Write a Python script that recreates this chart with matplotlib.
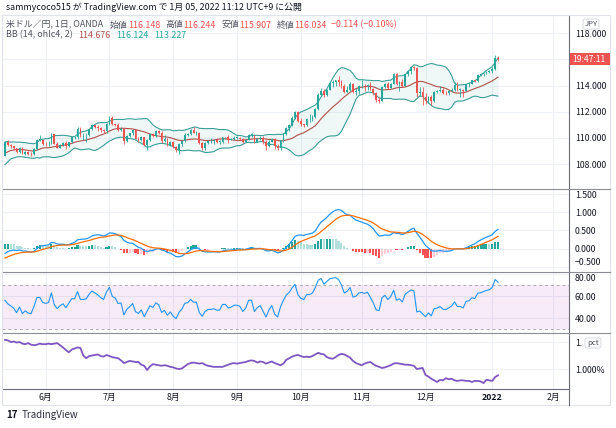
import numpy as np
import pandas as pd
import matplotlib
matplotlib.use('Agg')
import matplotlib.pyplot as plt
from matplotlib.patches import Rectangle, FancyBboxPatch
from matplotlib.lines import Line2D

plt.rcParams['font.family'] = ['Noto Sans CJK JP', 'DejaVu Sans']

# USD/JPY daily bars, 2021-05-12 .. 2022-01-05 (OANDA)
opens = [108.60, 109.70, 109.48, 109.35, 109.20, 108.90, 109.25, 108.78, 108.95, 108.78,
         108.75, 109.18, 109.85, 109.85, 109.55, 109.50, 109.55, 110.30, 109.55, 109.25,
         109.48, 109.62, 109.35, 109.68, 110.05, 110.05, 110.70, 110.20, 110.20, 110.25,
         110.65, 110.95, 110.85, 110.75, 110.60, 110.50, 111.10, 111.55, 111.05, 110.95,
         110.60, 110.65, 109.75, 110.15, 110.35, 110.60, 109.95, 109.80, 110.05, 109.45,
         109.85, 110.30, 110.15, 110.55, 110.40, 109.75, 109.90, 109.45, 109.70, 109.30,
         109.05, 109.50, 109.75, 110.25, 110.30, 110.60, 110.40, 110.40, 109.60, 109.25,
         109.60, 109.75, 109.75, 109.80, 109.70, 109.70, 110.05, 110.05, 109.85, 109.90,
         110.00, 110.00, 109.95, 109.70, 109.85, 110.25, 110.25, 109.70, 109.90, 110.00,
         109.70, 109.35, 109.70, 109.95, 109.40, 109.20, 109.80, 110.30, 110.75, 111.00,
         111.50, 111.95, 111.30, 111.05, 110.95, 111.45, 111.45, 111.60, 112.20, 113.30,
         113.60, 113.25, 113.70, 114.20, 114.30, 114.40, 114.30, 114.00, 113.50, 113.70,
         114.15, 113.50, 113.60, 113.95, 114.00, 113.95, 114.05, 113.75, 113.40, 112.90,
         112.85, 113.90, 114.15, 113.85, 114.15, 114.85, 114.10, 114.25, 114.00, 114.85,
         115.15, 115.40, 115.35, 113.40, 113.50, 113.15, 112.80, 113.15, 112.80, 113.50,
         113.55, 113.70, 113.45, 113.40, 113.55, 113.70, 114.05, 113.70, 113.70, 113.60,
         114.10, 114.15, 114.40, 114.35, 114.80, 114.85, 114.95, 115.05, 115.10, 115.30,
         116.148]
highs = [109.78, 109.80, 109.55, 109.38, 109.25, 109.32, 109.30, 108.98, 108.98, 108.90,
         109.20, 109.95, 110.20, 109.88, 109.70, 109.75, 110.35, 110.33, 109.65, 109.55,
         109.65, 109.75, 109.72, 110.10, 110.15, 110.80, 110.80, 110.40, 110.40, 110.70,
         111.10, 111.00, 110.95, 110.85, 110.65, 111.15, 111.65, 111.65, 111.10, 111.15,
         110.80, 110.70, 110.20, 110.40, 110.70, 110.65, 110.10, 110.15, 110.10, 109.90,
         110.40, 110.40, 110.60, 110.60, 110.55, 110.25, 110.00, 109.75, 109.75, 109.35,
         109.60, 109.80, 110.35, 110.40, 110.65, 110.80, 110.50, 110.45, 109.65, 109.65,
         109.85, 110.00, 109.95, 110.00, 109.80, 110.10, 110.10, 110.20, 110.00, 110.15,
         110.15, 110.05, 110.00, 109.90, 110.30, 110.40, 110.25, 110.00, 110.15, 110.15,
         109.80, 109.85, 110.00, 110.00, 109.55, 109.85, 110.35, 110.80, 111.05, 111.70,
         112.05, 112.05, 111.50, 111.10, 111.55, 111.80, 111.75, 112.25, 113.45, 113.80,
         113.75, 113.75, 114.30, 114.45, 114.45, 114.70, 114.40, 114.10, 113.95, 114.30,
         114.20, 113.85, 114.05, 114.45, 114.10, 114.15, 114.30, 113.85, 113.50, 113.10,
         114.00, 114.20, 114.30, 114.20, 114.95, 114.95, 114.35, 114.50, 114.90, 115.20,
         115.50, 115.50, 115.40, 113.90, 113.90, 113.45, 113.20, 113.25, 113.55, 113.70,
         113.95, 113.80, 113.60, 113.65, 113.80, 114.25, 114.25, 113.80, 113.75, 114.15,
         114.30, 114.45, 114.45, 114.85, 114.95, 115.00, 115.15, 115.20, 115.40, 116.35,
         116.244]
lows = [108.58, 109.35, 109.25, 109.10, 108.85, 108.85, 108.75, 108.70, 108.70, 108.60,
        108.70, 109.10, 109.75, 109.45, 109.40, 109.40, 109.50, 109.50, 109.20, 109.20,
        109.40, 109.15, 109.30, 109.60, 109.95, 109.90, 110.10, 109.80, 109.70, 110.15,
        110.60, 110.75, 110.55, 110.45, 110.35, 110.40, 111.00, 110.95, 110.90, 110.55,
        110.50, 109.55, 109.70, 110.05, 110.25, 109.90, 109.65, 109.75, 109.35, 109.05,
        109.75, 110.05, 110.10, 110.30, 109.60, 109.70, 109.40, 109.35, 109.20, 108.90,
        108.75, 109.40, 109.65, 110.15, 110.25, 110.35, 110.25, 109.55, 109.10, 109.10,
        109.50, 109.60, 109.55, 109.60, 109.55, 109.60, 109.90, 109.60, 109.80, 109.85,
        109.90, 109.85, 109.60, 109.70, 109.80, 110.10, 109.60, 109.65, 109.85, 109.55,
        109.10, 109.30, 109.65, 109.15, 109.10, 109.10, 109.70, 110.20, 110.55, 110.90,
        111.45, 111.25, 110.90, 110.80, 110.90, 111.25, 111.30, 111.55, 112.15, 113.20,
        113.15, 113.20, 113.65, 113.90, 113.95, 114.00, 113.80, 113.40, 113.45, 113.60,
        113.45, 113.25, 113.35, 113.80, 113.60, 113.65, 113.70, 113.30, 112.75, 112.70,
        112.80, 113.80, 113.75, 113.80, 114.10, 114.05, 113.60, 113.90, 113.95, 114.70,
        114.90, 115.20, 113.10, 113.20, 112.55, 112.60, 112.70, 112.55, 112.75, 113.40,
        113.50, 113.35, 113.30, 113.30, 113.50, 113.55, 113.60, 113.15, 113.15, 113.55,
        113.90, 114.10, 114.30, 114.30, 114.70, 114.70, 114.90, 114.95, 115.00, 115.20,
        115.907]
closes = [109.70, 109.48, 109.35, 109.20, 108.90, 109.25, 108.78, 108.95, 108.78, 108.75,
          109.18, 109.85, 109.85, 109.55, 109.50, 109.55, 110.30, 109.55, 109.25, 109.48,
          109.62, 109.35, 109.68, 110.05, 110.05, 110.70, 110.20, 110.20, 110.25, 110.65,
          110.95, 110.85, 110.75, 110.60, 110.50, 111.10, 111.55, 111.05, 110.95, 110.60,
          110.65, 109.75, 110.15, 110.35, 110.60, 109.95, 109.80, 110.05, 109.45, 109.85,
          110.30, 110.15, 110.55, 110.40, 109.75, 109.90, 109.45, 109.70, 109.30, 109.05,
          109.50, 109.75, 110.25, 110.30, 110.60, 110.40, 110.40, 109.60, 109.25, 109.60,
          109.75, 109.75, 109.80, 109.70, 109.70, 110.05, 110.05, 109.85, 109.90, 110.00,
          110.00, 109.95, 109.70, 109.85, 110.25, 110.25, 109.70, 109.90, 110.00, 109.70,
          109.35, 109.70, 109.95, 109.40, 109.20, 109.80, 110.30, 110.75, 111.00, 111.50,
          111.95, 111.30, 111.05, 110.95, 111.45, 111.45, 111.60, 112.20, 113.30, 113.60,
          113.25, 113.70, 114.20, 114.30, 114.40, 114.30, 114.00, 113.50, 113.70, 114.15,
          113.50, 113.60, 113.95, 114.00, 113.95, 114.05, 113.75, 113.40, 112.90, 112.85,
          113.90, 114.15, 113.85, 114.15, 114.85, 114.10, 114.25, 114.00, 114.85, 115.15,
          115.40, 115.35, 113.40, 113.50, 113.15, 112.80, 113.15, 112.80, 113.50, 113.55,
          113.70, 113.45, 113.40, 113.55, 113.70, 114.05, 113.70, 113.70, 113.60, 114.10,
          114.15, 114.40, 114.35, 114.80, 114.85, 114.95, 115.05, 115.10, 115.30, 116.148,
          116.034]

# closes before the visible range, only used to warm up the indicators
warmup_close = [110.72, 110.62, 110.28, 110.18, 109.75, 109.85, 109.27, 109.67, 109.40, 109.07,
                108.92, 108.77, 108.79, 108.15, 108.10, 108.10, 107.94, 107.88, 108.07, 108.69,
                108.64, 108.92, 109.31, 109.14, 109.35, 109.23, 109.10, 108.59, 108.79, 108.60]

# US10Y-US02Y spread (%), one value per bar
spread = [1.54, 1.53, 1.50, 1.51, 1.49, 1.50, 1.47, 1.46, 1.48, 1.45,
          1.44, 1.45, 1.47, 1.46, 1.46, 1.47, 1.46, 1.47, 1.48, 1.44,
          1.40, 1.35, 1.31, 1.36, 1.38, 1.40, 1.39, 1.25, 1.20, 1.24,
          1.25, 1.26, 1.27, 1.24, 1.23, 1.26, 1.24, 1.22, 1.21, 1.20,
          1.16, 1.11, 1.13, 1.15, 1.14, 1.13, 1.13, 1.08, 1.06, 0.98,
          1.05, 1.09, 1.08, 1.07, 1.06, 1.07, 1.06, 1.04, 1.03, 1.01,
          1.00, 1.01, 1.05, 1.09, 1.11, 1.12, 1.11, 1.10, 1.11, 1.08,
          1.06, 1.05, 1.04, 1.04, 1.04, 1.04, 1.06, 1.08, 1.10, 1.11,
          1.10, 1.11, 1.12, 1.13, 1.15, 1.16, 1.15, 1.12, 1.14, 1.13,
          1.10, 1.12, 1.14, 1.11, 1.09, 1.07, 1.10, 1.17, 1.20, 1.23,
          1.25, 1.26, 1.24, 1.22, 1.23, 1.22, 1.24, 1.27, 1.30, 1.28,
          1.27, 1.22, 1.20, 1.19, 1.22, 1.26, 1.28, 1.27, 1.24, 1.21,
          1.15, 1.11, 1.09, 1.07, 1.10, 1.12, 1.13, 1.09, 1.06, 1.04,
          1.02, 1.03, 1.05, 1.07, 1.10, 1.11, 1.10, 1.09, 1.08, 1.08,
          1.07, 1.06, 1.00, 1.01, 1.02, 0.89, 0.86, 0.82, 0.79, 0.76,
          0.80, 0.79, 0.83, 0.81, 0.82, 0.79, 0.78, 0.79, 0.79, 0.78,
          0.78, 0.76, 0.78, 0.78, 0.77, 0.74, 0.80, 0.79, 0.78, 0.85,
          0.883]

month_starts = ['2021-06-01', '2021-07-01', '2021-08-01', '2021-09-01', '2021-10-01',
                '2021-11-01', '2021-12-01', '2022-01-01', '2022-02-01']
month_labels = ['6月', '7月', '8月', '9月', '10月', '11月', '12月', '2022', '2月']

# ---- indicators ----
o = np.array(opens); h = np.array(highs); l = np.array(lows); c = np.array(closes)
nw = len(warmup_close)
full_close = pd.Series(warmup_close + closes)
src = pd.Series(warmup_close + list((o + h + l + c) / 4))

basis = src.rolling(14).mean()
dev = src.rolling(14).std(ddof=0) * 2
bb_mid = basis.values[nw:]
bb_up = (basis + dev).values[nw:]
bb_lo = (basis - dev).values[nw:]

ema12 = full_close.ewm(span=12, adjust=False).mean()
ema26 = full_close.ewm(span=26, adjust=False).mean()
macd = ema12 - ema26
signal = macd.ewm(span=9, adjust=False).mean()
hist = macd - signal
hist_prev = hist.shift(1)
macd_v = macd.values[nw:]
sig_v = signal.values[nw:]
hist_v = hist.values[nw:]
hist_p = hist_prev.values[nw:]

delta = full_close.diff()
up = delta.clip(lower=0).ewm(alpha=1/14, adjust=False).mean()
down = (-delta.clip(upper=0)).ewm(alpha=1/14, adjust=False).mean()
rsi = (100 - 100 / (1 + up / down)).values[nw:]

# ---- time axis (bar index) ----
days = pd.bdate_range('2021-05-12', '2022-02-28')
month_pos = [int(days.searchsorted(pd.Timestamp(m))) for m in month_starts]
x = np.arange(len(closes))

W, H = 616, 428
fig = plt.figure(figsize=(W / 100, H / 100), dpi=100)
fig.patch.set_facecolor('white')

def px_axes(x0, y0, x1, y1):
    return fig.add_axes([x0 / W, 1 - y1 / H, (x1 - x0) / W, (y1 - y0) / H])

ax1 = px_axes(2, 15, 569, 189)
ax2 = px_axes(2, 189, 569, 272)
ax3 = px_axes(2, 272, 569, 333)
ax4 = px_axes(2, 333, 569, 389)

GREEN = '#26a69a'
RED = '#ef5350'
GRID = '#eef1f6'
TXT = '#131722'
GRAY = '#50535e'
SEP = '#8a8d96'

x_left = (2 - 5) / 2.9
x_right = (569 - 5) / 2.9

for ax in (ax1, ax2, ax3, ax4):
    ax.set_facecolor('white')
    ax.set_xlim(x_left, x_right)
    ax.set_xticks(month_pos)
    ax.grid(True, color=GRID, lw=0.8, zorder=0)
    ax.set_axisbelow(True)
    ax.spines['left'].set_visible(False)
    ax.spines['bottom'].set_visible(False)
    ax.spines['right'].set_color('#6a6d78')
    ax.spines['top'].set_color(SEP)
    ax.spines['top'].set_linewidth(0.8)
    ax.yaxis.tick_right()
    ax.tick_params(axis='y', length=0, pad=4.3, labelsize=6.3, labelcolor=TXT)
    ax.tick_params(axis='x', length=0, labelbottom=False)
ax1.spines['top'].set_color('#e0e3eb')

# ---- main: candles + BB ----
ax1.set_ylim(106.09, 119.40)
pt = [108, 110, 112, 114, 116, 118]
ax1.set_yticks(pt)
# the 116 label sits under the live price tag
ax1.set_yticklabels(['' if v == 116 else '{:.3f}'.format(v) for v in pt])
ax1.fill_between(x, bb_lo, bb_up, color=GREEN, alpha=0.07, lw=0, zorder=1)
ax1.plot(x, bb_up, color='#3a9e98', lw=0.8, zorder=2)
ax1.plot(x, bb_lo, color='#3a9e98', lw=0.8, zorder=2)
ax1.plot(x, bb_mid, color='#b0504b', lw=0.8, zorder=2)
col = np.where(c >= o, GREEN, RED)
ax1.vlines(x, l, h, colors=col, lw=0.6, zorder=3)
body = np.maximum(np.abs(c - o), 0.03)
ax1.bar(x, body, bottom=np.minimum(o, c), width=0.62, color=col, lw=0, zorder=4)

# ---- MACD ----
ax2.set_ylim(-0.637, 1.637)
mt = [-0.5, 0, 0.5, 1.0, 1.5]
ax2.set_yticks(mt)
ax2.set_yticklabels([('−' if v < 0 else '') + '{:.3f}'.format(abs(v)) for v in mt])
for lab in ax2.get_yticklabels():
    if lab.get_text().startswith('−'):
        lab.set_verticalalignment('bottom')
hcol = []
for hv, hp in zip(hist_v, hist_p):
    if hv >= 0:
        hcol.append('#26a69a' if hv > hp else '#b2dfdb')
    else:
        hcol.append('#ffcdd2' if hv > hp else '#ff5252')
ax2.bar(x, hist_v, width=0.7, color=hcol, lw=0, zorder=2)
ax2.plot(x, macd_v, color='#2196f3', lw=0.9, zorder=3)
ax2.plot(x, sig_v, color='#ff6d00', lw=0.9, zorder=3)

# ---- RSI ----
ax3.set_ylim(26.4, 81.8)
ax3.set_yticks([40, 60, 80])
ax3.set_yticklabels(['40.00', '60.00', '80.00'])
for lab in ax3.get_yticklabels():
    if lab.get_text() == '80.00':
        lab.set_verticalalignment('top')
ax3.axhspan(30, 70, color='#9c27b0', alpha=0.09, lw=0, zorder=1)
ax3.axhline(70, color='#a9abb3', lw=0.7, ls=(0, (3, 3)), zorder=2)
ax3.axhline(30, color='#a9abb3', lw=0.7, ls=(0, (3, 3)), zorder=2)
ax3.plot(x, rsi, color='#2196f3', lw=0.8, zorder=3)

# ---- spread ----
ax4.set_ylim(0.63, 1.667)
ax4.set_yticks([1.0, 1.5])
ax4.set_yticklabels(['1.000%', '1.'])
ax4.plot(x, spread, color='#7e57c2', lw=1.3, zorder=3)
ax4.spines['bottom'].set_visible(True)
ax4.spines['bottom'].set_color('#6a6d78')
ax4.tick_params(axis='x', labelbottom=True, pad=3, labelsize=6.3, labelcolor=TXT)
ax4.set_xticklabels(month_labels)
for lab in ax4.get_xticklabels():
    if lab.get_text() == '2022':
        lab.set_fontweight('bold')

# ---- frame around chart / price scale ----
fig.add_artist(Rectangle((2 / W, 1 - 405 / H), (610 - 2) / W, (405 - 15) / H,
                         transform=fig.transFigure, fill=False, ec='#e0e3eb', lw=0.8))
fig.add_artist(Line2D([569 / W, 569 / W], [1 - 389 / H, 1 - 405 / H],
                      transform=fig.transFigure, color='#6a6d78', lw=0.8))
for yy in (189, 272, 333):
    fig.add_artist(Line2D([569 / W, 610 / W], [1 - yy / H, 1 - yy / H],
                          transform=fig.transFigure, color=SEP, lw=0.8))

# ---- badges on the price scale ----
def badge(cx, cy, text, w, hgt, fc='white', ec='#d1d4dc', tc=GRAY, size=5.6):
    fig.add_artist(FancyBboxPatch(((cx - w / 2) / W, 1 - (cy + hgt / 2) / H), w / W, hgt / H,
                                  boxstyle='round,pad=0,rounding_size=0.004',
                                  transform=fig.transFigure, fc=fc, ec=ec, lw=0.6, zorder=10))
    fig.text(cx / W, 1 - cy / H, text, ha='center', va='center', color=tc, fontsize=size, zorder=11)

badge(591, 24, 'JPY', 16, 10)
badge(593, 343, 'pct', 16, 10)
fig.add_artist(Rectangle((569.5 / W, 1 - 65 / H), 40 / W, 12 / H, transform=fig.transFigure,
                         fc=RED, ec='none', zorder=10))
fig.text(589 / W, 1 - 59 / H, '19:47:11', ha='center', va='center', color='white',
         fontsize=6.2, zorder=11)

# ---- legends ----
def chain(x0, y0, parts, size=6.4, weight='normal'):
    t = ax1.annotate(parts[0][0], xy=(x0, H - y0), xycoords='figure pixels', va='center',
                     ha='left', color=parts[0][1], fontsize=size, fontweight=weight,
                     annotation_clip=False, zorder=12)
    for s, colr, gap in parts[1:]:
        t = ax1.annotate(s, xy=(1, 0.5), xycoords=t, xytext=(gap, 0), textcoords='offset points',
                         va='center', ha='left', color=colr, fontsize=size,
                         annotation_clip=False, zorder=12)

fig.text(6 / W, 1 - 7 / H, 'sammycoco515 が TradingView.com で 1月 05, 2022 11:12 UTC+9 に公開',
         ha='left', va='center', color=TXT, fontsize=6.4)
chain(6, 25, [('米ドル／円, 1日, OANDA', GRAY), ('始値', GRAY, 5), ('116.148', RED, 0),
              ('高値', GRAY, 4), ('116.244', RED, 0), ('安値', GRAY, 4), ('115.907', RED, 0),
              ('終値', GRAY, 4), ('116.034', RED, 0), ('−0.114 (−0.10%)', RED, 3)])
chain(6, 35, [('BB (14, ohlc4, 2)', GRAY), ('114.676', '#b0504b', 4), ('116.124', '#26a69a', 4),
              ('113.227', '#26a69a', 4)])
chain(6, 197, [('MACD (12, 26, close, 9)', GRAY), ('0.189', '#26a69a', 4),
               ('0.532', '#2196f3', 4), ('0.343', '#ff6d00', 4)])
chain(6, 282, [('RSI (14, close)', GRAY), ('72.15', '#2196f3', 4)])
chain(6, 343, [('US10Y-US02Y, TVC', GRAY), ('0.883%', '#7e57c2', 4),
               ('−0.004% (−0.45%)', '#7e57c2', 4)])

# ---- TradingView mark ----
chain(6, 415, [('17', TXT), ('TradingView', '#2a2e39', 3)], size=7, weight='bold')

fig.savefig('out.png', dpi=100, facecolor='white')
